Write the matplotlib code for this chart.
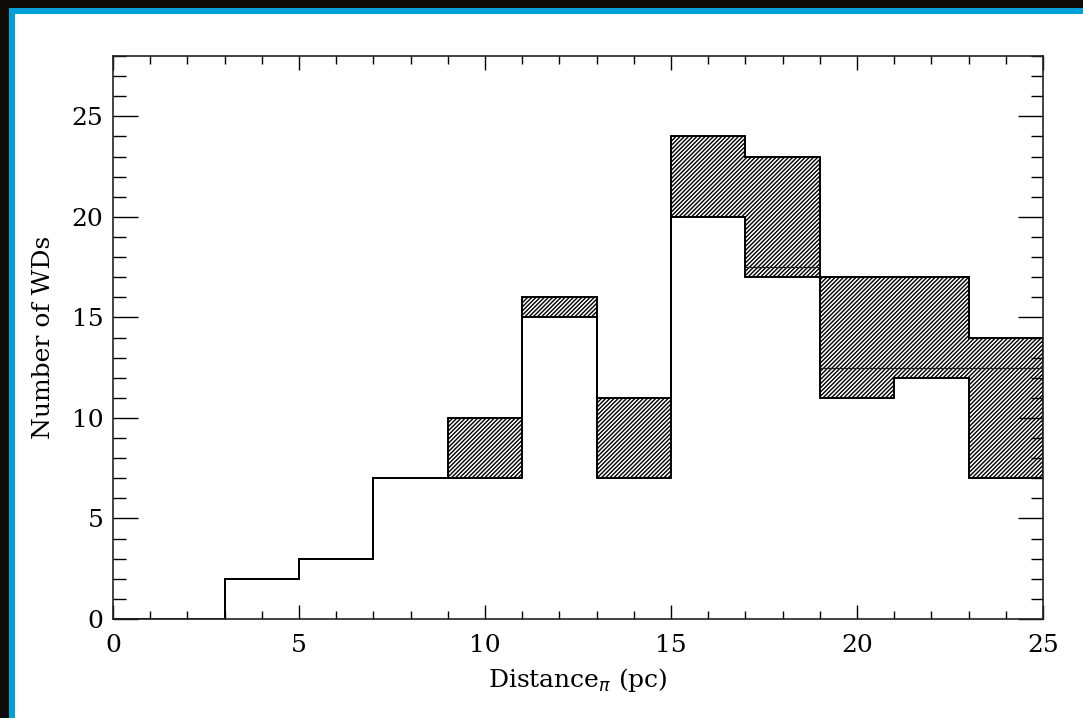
import numpy as np
import matplotlib.pyplot as plt
from matplotlib.patches import Rectangle
from matplotlib.ticker import MultipleLocator

# bin edges (pc) and counts per 2 pc bin
edges = np.arange(-1, 26, 2)
n_lower = [0, 0, 2, 3, 7, 7, 15, 7, 20, 17, 11, 12, 7]
n_upper = [0, 0, 2, 3, 7, 10, 16, 11, 24, 23, 17, 17, 14]

# inner levels drawn across the hatched band
level_x = [(17, 19), (19, 25)]
level_y = [17.5, 12.5]

plt.rcParams['hatch.linewidth'] = 1.0

fig = plt.figure(figsize=(10.83, 7.18), dpi=100, facecolor='#0e0b08')
W, H = 1083, 718
fig.patches.append(Rectangle((9 / W, 0), 1, (H - 8) / H, transform=fig.transFigure,
                             facecolor='#00a0d9', edgecolor='none', zorder=-2))
fig.patches.append(Rectangle((15 / W, 0), 1, (H - 14) / H, transform=fig.transFigure,
                             facecolor='white', edgecolor='none', zorder=-1))

ax = fig.add_axes([113 / W, (H - 619) / H, (1043 - 113) / W, (619 - 56) / H])
ax.set_facecolor('white')

ax.stairs(n_upper, edges, baseline=n_lower, fill=True, hatch='////////',
          facecolor='white', edgecolor='black', linewidth=1.2)
ax.stairs(n_upper, edges, baseline=None, color='black', linewidth=1.2)
ax.stairs(n_lower, edges, baseline=None, color='black', linewidth=1.2)
for (x0, x1), y in zip(level_x, level_y):
    ax.hlines(y, x0, x1, color='#222222', linewidth=0.9)

ax.set_xlim(0, 25)
ax.set_ylim(0, 28)
ax.xaxis.set_major_locator(MultipleLocator(5))
ax.xaxis.set_minor_locator(MultipleLocator(1))
ax.yaxis.set_major_locator(MultipleLocator(5))
ax.yaxis.set_minor_locator(MultipleLocator(1))

font = dict(family='DejaVu Serif', size=18)
ax.tick_params(which='both', direction='in', top=True, right=True, width=1,
               labelsize=18, colors='black')
ax.tick_params(axis='x', which='major', length=10, pad=11)
ax.tick_params(axis='x', which='minor', length=6)
ax.tick_params(axis='y', which='major', length=18, pad=7)
ax.tick_params(axis='y', which='minor', length=9)
for lab in ax.get_xticklabels() + ax.get_yticklabels():
    lab.set_family('DejaVu Serif')
for s in ax.spines.values():
    s.set_linewidth(1.2)
    s.set_color('#222222')

ax.set_xlabel(r'Distance$_\pi$ (pc)', fontdict=font, labelpad=6)
ax.set_ylabel('Number of WDs', fontdict=font, labelpad=12)

fig.savefig('out.png', dpi=100, facecolor=fig.get_facecolor())
